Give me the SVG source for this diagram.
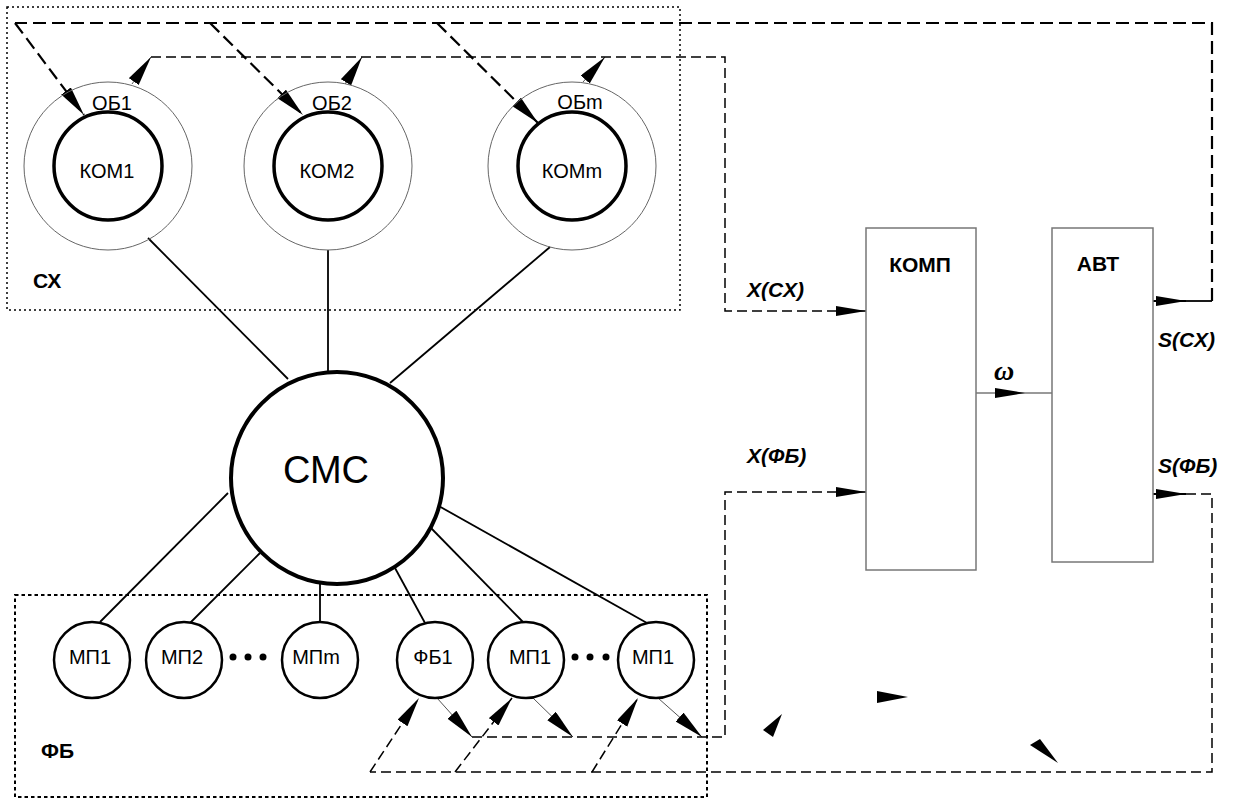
<svg xmlns="http://www.w3.org/2000/svg" width="1234" height="799" viewBox="0 0 1234 799">
  <defs>
    <marker id="arr" markerUnits="userSpaceOnUse" markerWidth="32" markerHeight="12" refX="30" refY="5" orient="auto">
      <path d="M0,0 L30,5 L0,10 z" fill="#000"/>
    </marker>
    <marker id="arrw" markerUnits="userSpaceOnUse" markerWidth="32" markerHeight="14" refX="30" refY="6" orient="auto">
      <path d="M0,0 L30,6 L0,12 z" fill="#000"/>
    </marker>
    <style>
      text { font-family: "Liberation Sans", Arial, sans-serif; fill: #000; }
      .lbl { font-size: 20px; text-anchor: middle; }
      .big { font-size: 38px; text-anchor: middle; }
      .bold { font-size: 21px; font-weight: bold; }
      .sig { font-size: 21px; font-style: italic; font-weight: bold; }
      .zone { fill: none; stroke: #000; stroke-width: 1.5; stroke-dasharray: 2 3; }
      .zone2 { fill: none; stroke: #000; stroke-width: 2; stroke-dasharray: 3.5 3; }
      .ring { fill: none; stroke: #666; stroke-width: 1; }
      .kom { fill: #fff; stroke: #000; stroke-width: 3.5; }
      .cmc { fill: #fff; stroke: #000; stroke-width: 4; }
      .mp { fill: #fff; stroke: #000; stroke-width: 2.5; }
      .blk { fill: #fff; stroke: #777; stroke-width: 1.5; }
      .link { stroke: #000; stroke-width: 1.8; fill: none; }
      .bus { fill: none; stroke: #000; stroke-width: 2.2; stroke-dasharray: 13 6; }
      .sigline { fill: none; stroke: #000; stroke-width: 1.5; stroke-dasharray: 10 5; }
      .thin { fill: none; stroke: #555; stroke-width: 1; }
      .solid { fill: none; stroke: #000; stroke-width: 1.8; }
      .ah { marker-end: url(#arr); }
      .ahw { marker-end: url(#arrw); }
    </style>
  </defs>

  <rect width="1234" height="799" fill="#fff"/>

  <!-- zones -->
  <g id="zone-cx">
    <rect class="zone" x="7" y="7" width="673" height="303"/>
    <text class="bold" x="33" y="288">СХ</text>
  </g>
  <g id="zone-fb">
    <rect class="zone2" x="15" y="595" width="692" height="202"/>
    <text class="bold" x="41" y="758">ФБ</text>
  </g>

  <!-- connectors -->
  <g id="connectors">
    <!-- star links from CMC -->
    <line class="link" x1="148" y1="238" x2="288" y2="379"/>
    <line class="link" x1="328" y1="250" x2="328" y2="372"/>
    <line class="link" x1="550" y1="247" x2="390" y2="383"/>
    <line class="link" x1="228" y1="493" x2="100" y2="622"/>
    <line class="link" x1="260" y1="553" x2="190" y2="623"/>
    <line class="link" x1="320" y1="584" x2="320" y2="622"/>
    <line class="link" x1="395" y1="568" x2="425" y2="623"/>
    <line class="link" x1="430" y1="527" x2="523" y2="622"/>
    <line class="link" x1="437" y1="505" x2="647" y2="623"/>

    <!-- S(CX): from АВТ back to the КОМ nodes -->
    <line class="solid ah" x1="1153" y1="301" x2="1186" y2="301"/>
    <line class="solid" x1="1184" y1="301" x2="1212" y2="301"/>
    <path class="bus" d="M1212,301 V23 H15"/>
    <line class="bus ahw" x1="15" y1="23" x2="84" y2="115"/>
    <line class="bus ahw" x1="210" y1="23" x2="303" y2="115"/>
    <line class="bus ahw" x1="437" y1="23" x2="538" y2="123"/>

    <!-- X(CX): from the ОБ rings to КОМП -->
    <line class="thin ahw" x1="132" y1="84" x2="151" y2="57"/>
    <line class="thin ahw" x1="345" y1="84" x2="362" y2="57"/>
    <line class="thin ahw" x1="583" y1="82" x2="605" y2="57"/>
    <path class="sigline ah" d="M151,57 H725 V311 H866"/>

    <!-- omega: КОМП to АВТ -->
    <line x1="976" y1="393" x2="1052" y2="393" stroke="#777" stroke-width="1.5"/>
    <line class="ah" x1="990" y1="393" x2="1025" y2="393" stroke="none"/>

    <!-- X(ФБ): from the ФБ nodes to КОМП -->
    <line class="thin ahw" x1="437" y1="698" x2="472" y2="737"/>
    <line class="thin ahw" x1="533" y1="698" x2="573" y2="737"/>
    <line class="thin ahw" x1="658" y1="698" x2="702" y2="737"/>
    <path class="sigline ah" d="M472,737 H725 V492 H866"/>

    <!-- S(ФБ): from АВТ back to the ФБ nodes -->
    <line class="solid ah" x1="1153" y1="494" x2="1186" y2="494"/>
    <path class="sigline" d="M1186,494 H1212 V772 H370"/>
    <line class="sigline ahw" x1="370" y1="772" x2="419" y2="698"/>
    <line class="sigline ahw" x1="455" y1="772" x2="512" y2="698"/>
    <line class="sigline ahw" x1="592" y1="772" x2="638" y2="698"/>

    <!-- loose arrowheads -->
    <polygon points="877,691 908,697 877,703" fill="#000"/>
    <polygon points="782,714 763,730 773,737" fill="#000"/>
    <polygon points="1058,763 1030,745 1040,739" fill="#000"/>
  </g>

  <!-- signal labels -->
  <g id="signal-labels">
    <text class="sig" x="747" y="297">X(СХ)</text>
    <text class="sig" x="747" y="463">X(ФБ)</text>
    <text class="sig" x="1158" y="347">S(СХ)</text>
    <text class="sig" x="1158" y="473">S(ФБ)</text>
    <text x="994" y="380" style="font-family:'Liberation Serif','Times New Roman',serif;font-size:28px;font-style:italic;font-weight:bold">ω</text>
  </g>

  <!-- ОБ / КОМ nodes -->
  <g id="ob1">
    <circle class="ring" cx="108" cy="166" r="84"/>
    <text class="lbl" x="112" y="110">ОБ1</text>
    <circle class="kom" cx="108" cy="166" r="54"/>
    <text class="lbl" x="107" y="178">КОМ1</text>
  </g>
  <g id="ob2">
    <circle class="ring" cx="328" cy="166" r="84"/>
    <text class="lbl" x="332" y="110">ОБ2</text>
    <circle class="kom" cx="328" cy="166" r="54"/>
    <text class="lbl" x="327" y="178">КОМ2</text>
  </g>
  <g id="obm">
    <circle class="ring" cx="572" cy="166" r="84"/>
    <text class="lbl" x="580" y="109">ОБm</text>
    <circle class="kom" cx="572" cy="166" r="54"/>
    <text class="lbl" x="572" y="178">КОМm</text>
  </g>

  <!-- central node -->
  <g id="cmc">
    <circle class="cmc" cx="337" cy="478" r="106"/>
    <text class="big" x="326" y="483">СМС</text>
  </g>

  <!-- МП / ФБ nodes -->
  <g id="mp1">
    <circle class="mp" cx="92" cy="660" r="38"/>
    <text class="lbl" x="90" y="664">МП1</text>
  </g>
  <g id="mp2">
    <circle class="mp" cx="184" cy="660" r="38"/>
    <text class="lbl" x="182" y="664">МП2</text>
  </g>
  <g id="dots-left">
    <circle cx="233" cy="657" r="3.5"/>
    <circle cx="248" cy="657" r="3.5"/>
    <circle cx="263" cy="657" r="3.5"/>
  </g>
  <g id="mpm">
    <circle class="mp" cx="320" cy="660" r="38"/>
    <text class="lbl" x="316" y="664">МПm</text>
  </g>
  <g id="fb1">
    <circle class="mp" cx="435" cy="660" r="38"/>
    <text class="lbl" x="433" y="664">ФБ1</text>
  </g>
  <g id="mp1-b">
    <circle class="mp" cx="526" cy="660" r="38"/>
    <text class="lbl" x="530" y="664">МП1</text>
  </g>
  <g id="dots-right">
    <circle cx="575" cy="657" r="3.5"/>
    <circle cx="590" cy="657" r="3.5"/>
    <circle cx="606" cy="657" r="3.5"/>
  </g>
  <g id="mp1-c">
    <circle class="mp" cx="656" cy="660" r="38"/>
    <text class="lbl" x="653" y="664">МП1</text>
  </g>

  <!-- processing blocks -->
  <g id="komp">
    <rect class="blk" x="866" y="228" width="110" height="342"/>
    <text class="bold" x="920" y="272" text-anchor="middle">КОМП</text>
  </g>
  <g id="avt">
    <rect class="blk" x="1052" y="228" width="101" height="334"/>
    <text class="bold" x="1098" y="271" text-anchor="middle">АВТ</text>
  </g>
</svg>
